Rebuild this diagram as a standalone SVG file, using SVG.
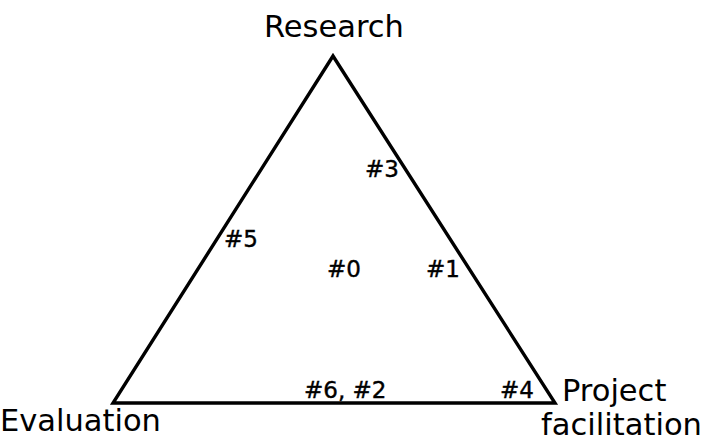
<svg xmlns="http://www.w3.org/2000/svg" width="707" height="441" viewBox="0 0 707 441">
<style>
.lbl{font-family:"DejaVu Sans","Liberation Sans",sans-serif;fill:#000}
.big{font-size:30.5px}
.sm{font-size:23px;stroke:#000;stroke-width:0.4px}
</style>
<rect width="707" height="441" fill="#fff"/>
<g id="connectors">
<polygon points="333,56 113,403 555,403" fill="none" stroke="#000" stroke-width="3.4" stroke-linejoin="miter"/>
</g>
<g id="research"><text class="lbl big" x="264" y="37">Research</text></g>
<g id="evaluation"><text class="lbl big" x="0" y="431">Evaluation</text></g>
<g id="project"><text class="lbl big" x="562" y="401">Project</text><text class="lbl big" x="541" y="435" textLength="161" lengthAdjust="spacingAndGlyphs">facilitation</text></g>
<g id="n3"><text class="lbl sm" x="365" y="177">#3</text></g>
<g id="n5"><text class="lbl sm" x="224" y="247">#5</text></g>
<g id="n0"><text class="lbl sm" x="327" y="277">#0</text></g>
<g id="n1"><text class="lbl sm" x="426" y="277">#1</text></g>
<g id="n62"><text class="lbl sm" x="304" y="398">#6, #2</text></g>
<g id="n4"><text class="lbl sm" x="500" y="398">#4</text></g>
</svg>
